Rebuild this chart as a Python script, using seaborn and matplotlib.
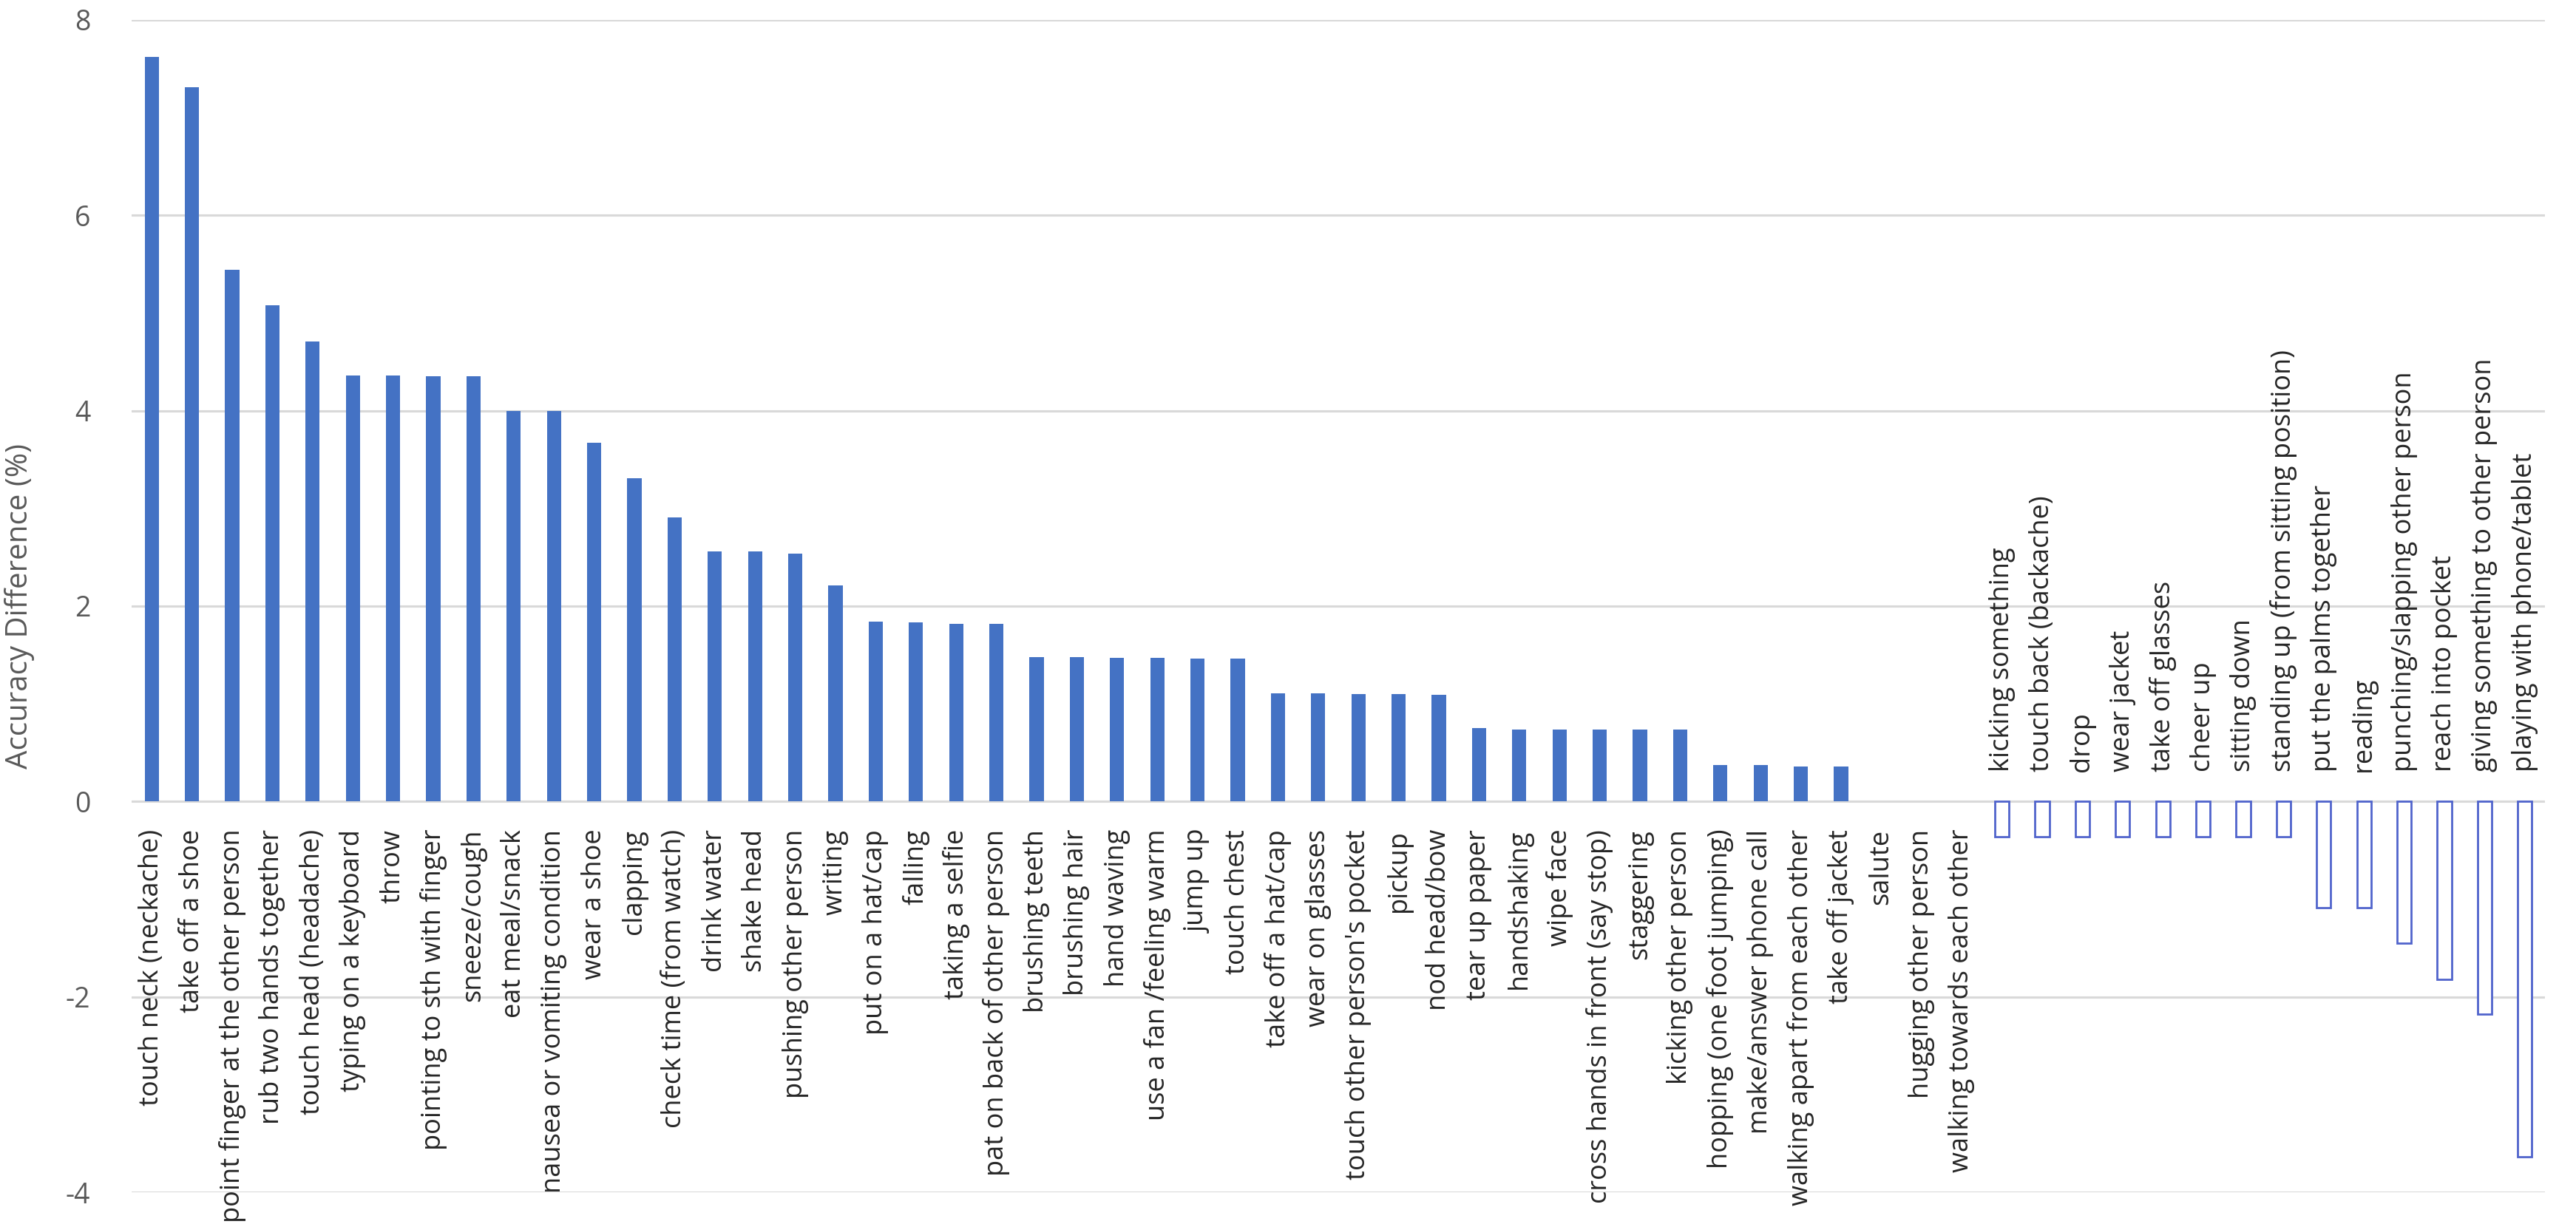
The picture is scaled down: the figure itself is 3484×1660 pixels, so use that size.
import matplotlib
matplotlib.use("Agg")
import matplotlib.pyplot as plt
import seaborn as sns
import pandas as pd

categories = [
    "touch neck (neckache)", "take off a shoe", "point finger at the other person",
    "rub two hands together", "touch head (headache)", "typing on a keyboard", "throw",
    "pointing to sth with finger", "sneeze/cough", "eat meal/snack",
    "nausea or vomiting condition", "wear a shoe", "clapping", "check time (from watch)",
    "drink water", "shake head", "pushing other person", "writing", "put on a hat/cap",
    "falling", "taking a selfie", "pat on back of other person", "brushing teeth",
    "brushing hair", "hand waving", "use a fan /feeling warm", "jump up", "touch chest",
    "take off a hat/cap", "wear on glasses", "touch other person's pocket", "pickup",
    "nod head/bow", "tear up paper", "handshaking", "wipe face",
    "cross hands in front (say stop)", "staggering", "kicking other person",
    "hopping (one foot jumping)", "make/answer phone call", "walking apart from each other",
    "take off jacket", "salute", "hugging other person", "walking towards each other",
    "kicking something", "touch back (backache)", "drop", "wear jacket", "take off glasses",
    "cheer up", "sitting down", "standing up (from sitting position)",
    "put the palms together", "reading", "punching/slapping other person",
    "reach into pocket", "giving something to other person", "playing with phone/tablet",
]
values = [
    7.62, 7.31, 5.44, 5.08, 4.71, 4.36, 4.36, 4.35, 4.35, 4.00,
    4.00, 3.67, 3.31, 2.91, 2.56, 2.56, 2.54, 2.21, 1.84, 1.83,
    1.82, 1.82, 1.48, 1.48, 1.47, 1.47, 1.46, 1.46, 1.11, 1.11,
    1.10, 1.10, 1.09, 0.75, 0.74, 0.74, 0.74, 0.74, 0.74, 0.37,
    0.37, 0.36, 0.36, 0.0, 0.0, 0.0, -0.36, -0.36, -0.36, -0.36,
    -0.36, -0.36, -0.36, -0.36, -1.09, -1.09, -1.45, -1.82, -2.18, -3.64,
]
y_ticks = [-4, -2, 0, 2, 4, 6, 8]
y_label = "Accuracy Difference (%)"

sns.set_theme(style="white")
plt.rcParams["font.family"] = ["Open Sans", "DejaVu Sans"]

BLUE = "#4472C4"
NEG_EDGE = "#5064CC"

df = pd.DataFrame({"action": categories, "diff": values})

fig = plt.figure(figsize=(34.84, 16.6), dpi=100)
ax = fig.add_axes([178 / 3484, 1 - 1613 / 1660, (3442 - 178) / 3484, (1613 - 27) / 1660])

sns.barplot(data=df, x="action", y="diff", color=BLUE, saturation=1,
            width=0.355, ax=ax, order=categories)

for patch, v in zip(ax.patches, values):
    if v < 0:
        patch.set_facecolor("white")
        patch.set_edgecolor(NEG_EDGE)
        patch.set_linewidth(2.0)
    else:
        patch.set_edgecolor("none")

ax.set_ylim(-4, 8)
ax.set_xlim(-0.5, len(categories) - 0.5)
ax.set_yticks(y_ticks)
ax.set_yticklabels([str(t) for t in y_ticks], fontsize=27, color="#595959")
ax.tick_params(axis="y", length=0, pad=40)
ax.set_xticks(range(len(categories)))
ax.set_xticklabels([])
ax.tick_params(axis="x", length=0)
ax.set_xlabel("")
ax.set_ylabel(y_label, fontsize=29, color="#595959", labelpad=30)

ax.yaxis.grid(True, color="#D9D9D9", linewidth=2.2)
ax.set_axisbelow(True)
for s in ax.spines.values():
    s.set_visible(False)

for i, (name, v) in enumerate(zip(categories, values)):
    if v < 0:
        ax.annotate(name, xy=(i, 0), xytext=(0, 29), textcoords="offset points",
                    rotation=90, ha="center", va="bottom", fontsize=26,
                    color="#262626", annotation_clip=False)
    else:
        ax.annotate(name, xy=(i, 0), xytext=(0, -27), textcoords="offset points",
                    rotation=90, ha="center", va="top", fontsize=26,
                    color="#262626", annotation_clip=False)

fig.savefig("out.png", dpi=100, facecolor="white")
